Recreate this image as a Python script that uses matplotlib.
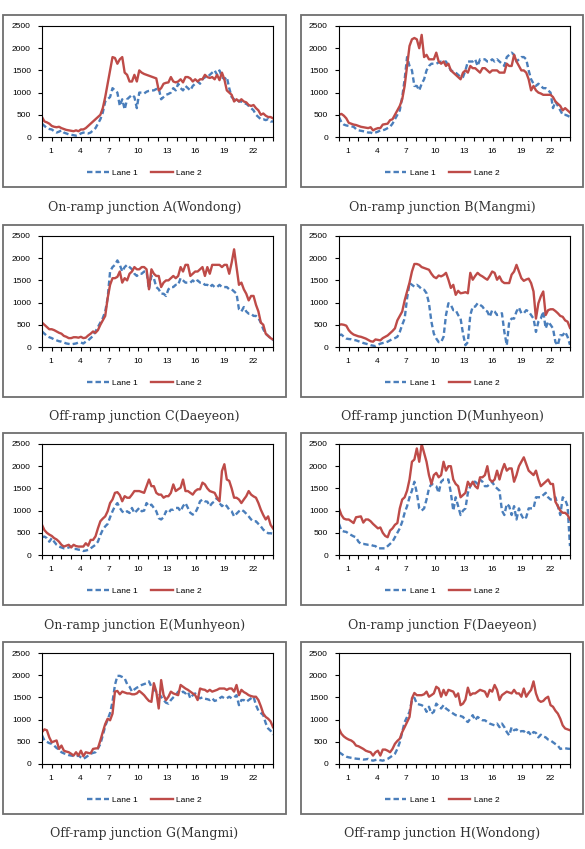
import numpy as np
import matplotlib.pyplot as plt
from matplotlib.patches import Rectangle

# 15-minute traffic volumes (veh/h), 96 samples per day
a_lane1 = [300, 250, 200, 180, 170, 130, 100, 120, 150, 100, 80, 60, 50, 40, 30, 50,
           80, 100, 90, 80, 100, 150, 200, 300, 400, 550, 800, 850, 900, 1100, 1050, 1000,
           700, 850, 620, 850, 900, 950, 900, 650, 1000, 1000, 980, 1020, 1040, 1050, 1050, 1080,
           1100, 850, 900, 950, 970, 1000, 1100, 1050, 1200, 1100, 1050, 1150, 1100, 1050, 1150, 1200,
           1250, 1200, 1300, 1350, 1350, 1400, 1450, 1500, 1400, 1500, 1350, 1300, 1350, 1100, 900, 850,
           850, 800, 800, 750, 750, 700, 650, 600, 500, 450, 400, 400, 380, 400, 350, 350]
a_lane2 = [450, 350, 330, 300, 250, 230, 220, 230, 200, 180, 160, 150, 140, 130, 150, 130,
           170, 170, 200, 250, 300, 350, 400, 450, 500, 650, 900, 1200, 1500, 1800, 1780, 1650,
           1750, 1800, 1450, 1400, 1250, 1250, 1400, 1250, 1500, 1450, 1420, 1400, 1380, 1360, 1340, 1320,
           1050, 1100, 1200, 1220, 1230, 1350, 1250, 1230, 1250, 1300, 1230, 1350, 1350, 1320, 1250, 1300,
           1250, 1300, 1300, 1400, 1350, 1330, 1350, 1300, 1400, 1280, 1450, 1300, 1050, 1000, 950, 800,
           850, 800, 850, 800, 780, 720, 700, 720, 650, 600, 500, 530, 480, 450, 450, 420]
b_lane1 = [450, 330, 280, 260, 250, 240, 230, 180, 150, 140, 130, 120, 100, 100, 80, 100,
           120, 150, 150, 170, 200, 230, 300, 400, 500, 600, 900, 1300, 1800, 1600, 1500, 1150,
           1150, 1050, 1200, 1300, 1500, 1600, 1650, 1650, 1650, 1680, 1700, 1700, 1700, 1600, 1500, 1480,
           1450, 1400, 1350, 1350, 1500, 1700, 1700, 1700, 1750, 1600, 1750, 1750, 1750, 1700, 1700, 1750,
           1700, 1750, 1700, 1650, 1600, 1800, 1850, 1900, 1850, 1700, 1750, 1800, 1800, 1750, 1500, 1300,
           1200, 1150, 1200, 1150, 1100, 1100, 1050, 1000, 650, 800, 700, 600, 500, 500, 480, 450]
b_lane2 = [500, 520, 480, 420, 320, 300, 280, 270, 250, 230, 220, 210, 200, 220, 150, 180,
           200, 200, 280, 290, 300, 380, 400, 500, 600, 700, 850, 1150, 1600, 2050, 2200, 2230,
           2200, 2000, 2300, 1800, 1850, 1750, 1750, 1750, 1900, 1700, 1650, 1700, 1600, 1650, 1500, 1450,
           1400, 1350, 1300, 1450, 1500, 1450, 1600, 1550, 1550, 1500, 1450, 1550, 1550, 1500, 1450, 1500,
           1500, 1500, 1450, 1450, 1450, 1650, 1600, 1600, 1850, 1700, 1600, 1500, 1500, 1450, 1300, 1050,
           1150, 1050, 1000, 980, 950, 950, 950, 950, 900, 800, 750, 700, 600, 650, 600, 550]
c_lane1 = [350, 300, 250, 220, 200, 170, 150, 130, 120, 100, 80, 70, 60, 70, 80, 100,
           100, 80, 120, 150, 200, 250, 350, 450, 550, 650, 800, 1100, 1700, 1800, 1850, 1950,
           1850, 1700, 1800, 1850, 1800, 1750, 1650, 1600, 1650, 1650, 1700, 1700, 1300, 1600, 1550, 1350,
           1300, 1200, 1200, 1150, 1300, 1350, 1350, 1400, 1400, 1550, 1500, 1450, 1450, 1450, 1500, 1450,
           1500, 1450, 1450, 1400, 1400, 1350, 1400, 1350, 1350, 1400, 1350, 1350, 1350, 1300, 1300, 1250,
           1200, 850, 800, 900, 800, 750, 750, 700, 700, 650, 550, 400, 300, 250, 200, 150]
c_lane2 = [550, 500, 450, 400, 400, 380, 350, 320, 300, 250, 230, 200, 200, 220, 220, 210,
           230, 200, 210, 260, 300, 350, 320, 380, 500, 600, 700, 1100, 1400, 1550, 1550, 1580,
           1700, 1450, 1550, 1500, 1650, 1700, 1800, 1750, 1750, 1800, 1800, 1750, 1300, 1750, 1650, 1600,
           1600, 1350, 1450, 1500, 1500, 1550, 1600, 1550, 1600, 1800, 1700, 1850, 1850, 1600, 1650, 1700,
           1700, 1750, 1800, 1600, 1800, 1650, 1850, 1850, 1850, 1850, 1800, 1850, 1850, 1650, 1900, 2200,
           1800, 1400, 1450, 1300, 1200, 1050, 1150, 1150, 950, 800, 550, 500, 300, 250, 200, 170]
d_lane1 = [265, 280, 230, 190, 180, 175, 160, 150, 130, 110, 90, 75, 60, 40, 30, 20,
           50, 75, 90, 100, 120, 150, 180, 200, 230, 340, 500, 640, 1100, 1440, 1400, 1360,
           1400, 1360, 1300, 1290, 1210, 985, 570, 300, 190, 110, 110, 230, 720, 985, 950, 830,
           830, 720, 640, 300, 40, 110, 720, 910, 910, 985, 950, 910, 830, 800, 680, 830,
           800, 720, 740, 760, 340, 40, 570, 640, 640, 800, 890, 760, 760, 830, 800, 720,
           640, 340, 570, 640, 800, 420, 570, 500, 420, 110, 40, 265, 265, 340, 230, 50]
d_lane2 = [500, 510, 500, 480, 380, 320, 280, 260, 240, 230, 210, 190, 160, 130, 120, 170,
           160, 150, 200, 230, 260, 310, 360, 420, 600, 700, 800, 1050, 1250, 1450, 1700, 1870,
           1870, 1850, 1800, 1780, 1760, 1740, 1650, 1580, 1550, 1610, 1590, 1620, 1670, 1515, 1330, 1400,
           1175, 1265, 1210, 1220, 1235, 1210, 1670, 1515, 1600, 1670, 1620, 1590, 1550, 1515, 1600, 1700,
           1670, 1515, 1590, 1480, 1440, 1440, 1440, 1630, 1700, 1850, 1700, 1550, 1490, 1520, 1540, 1440,
           1250, 640, 985, 1140, 1250, 720, 830, 850, 850, 810, 760, 700, 680, 600, 570, 430]
e_lane1 = [400, 415, 380, 300, 380, 300, 230, 190, 170, 150, 150, 170, 190, 135, 135, 120,
           115, 90, 100, 115, 150, 190, 230, 300, 450, 570, 645, 700, 850, 985, 1100, 1170,
           1060, 980, 945, 985, 945, 1060, 945, 1000, 1060, 985, 1000, 1170, 1100, 1135, 1060, 985,
           830, 800, 850, 985, 945, 1020, 1020, 1060, 1060, 985, 1100, 1170, 1060, 950, 910, 945,
           1060, 1210, 1250, 1210, 1200, 1100, 1170, 1210, 1290, 1170, 1100, 1150, 1100, 1020, 985, 870,
           930, 985, 1020, 985, 930, 870, 800, 760, 760, 700, 645, 570, 530, 490, 490, 480]
e_lane2 = [680, 560, 500, 460, 430, 380, 350, 300, 230, 190, 210, 230, 170, 230, 200, 190,
           190, 190, 265, 210, 340, 340, 420, 600, 760, 820, 870, 985, 1170, 1250, 1400, 1415,
           1350, 1210, 1325, 1290, 1290, 1360, 1440, 1440, 1440, 1420, 1400, 1550, 1700, 1550, 1550, 1400,
           1360, 1360, 1290, 1325, 1325, 1400, 1590, 1440, 1480, 1515, 1700, 1440, 1440, 1400, 1360, 1440,
           1480, 1480, 1630, 1590, 1500, 1440, 1420, 1400, 1290, 1210, 1890, 2045, 1700, 1670, 1500, 1290,
           1290, 1250, 1170, 1250, 1325, 1440, 1360, 1320, 1290, 1170, 1020, 900, 800, 870, 680, 600]
f_lane1 = [700, 550, 530, 520, 480, 450, 420, 400, 300, 250, 250, 240, 230, 230, 210, 200,
           150, 150, 150, 150, 200, 250, 300, 400, 500, 600, 750, 950, 1100, 1300, 1450, 1650,
           1400, 1050, 1000, 1050, 1250, 1500, 1600, 1580, 1550, 1400, 1650, 1700, 1700, 1700, 1400, 1000,
           1300, 1100, 900, 1000, 1050, 1400, 1550, 1650, 1650, 1600, 1700, 1650, 1550, 1550, 1600, 1650,
           1550, 1500, 1450, 1000, 900, 1150, 1100, 900, 1100, 800, 1050, 900, 800, 850, 1050, 1050,
           1050, 1300, 1300, 1300, 1350, 1400, 1300, 1250, 1250, 1300, 1100, 900, 1300, 1250, 1100, 200]
f_lane2 = [1050, 900, 820, 800, 800, 760, 720, 850, 860, 870, 730, 800, 800, 760, 700, 650,
           600, 620, 500, 430, 400, 550, 600, 680, 720, 1050, 1250, 1300, 1450, 1700, 2100, 2150,
           2400, 2100, 2500, 2300, 2100, 1800, 1600, 1800, 1850, 1750, 1800, 2100, 1900, 2000, 2000, 1700,
           1600, 1550, 1300, 1350, 1400, 1650, 1550, 1650, 1550, 1500, 1750, 1750, 1800, 2000, 1700, 1650,
           1700, 1900, 1700, 1900, 2050, 1900, 1950, 1950, 1650, 1800, 2000, 2100, 2200, 2050, 1900, 1850,
           1800, 1900, 1700, 1550, 1600, 1650, 1700, 1600, 1600, 1200, 1100, 1000, 950, 950, 900, 800]
g_lane1 = [645, 530, 500, 470, 455, 415, 360, 330, 265, 240, 220, 200, 190, 180, 175, 190,
           150, 115, 150, 190, 230, 250, 265, 350, 450, 645, 850, 1000, 1150, 1400, 1780, 1985,
           1985, 1960, 1930, 1800, 1740, 1630, 1680, 1720, 1740, 1780, 1800, 1820, 1860, 1740, 1680, 1630,
           1590, 1515, 1440, 1380, 1360, 1440, 1500, 1550, 1630, 1590, 1630, 1590, 1630, 1480, 1550, 1590,
           1515, 1480, 1500, 1470, 1460, 1440, 1480, 1420, 1440, 1480, 1515, 1480, 1480, 1515, 1480, 1500,
           1550, 1325, 1440, 1440, 1400, 1440, 1480, 1515, 1325, 1200, 1150, 1100, 920, 800, 750, 660]
g_lane2 = [720, 780, 760, 600, 490, 510, 530, 340, 415, 300, 280, 265, 230, 190, 265, 190,
           300, 175, 265, 250, 240, 340, 350, 355, 530, 720, 900, 1020, 985, 1135, 1630, 1645,
           1570, 1630, 1610, 1590, 1590, 1570, 1570, 1590, 1645, 1600, 1550, 1480, 1420, 1400, 1820, 1630,
           1250, 1890, 1550, 1440, 1515, 1630, 1590, 1570, 1550, 1780, 1740, 1700, 1670, 1630, 1590, 1550,
           1440, 1700, 1680, 1670, 1630, 1670, 1630, 1650, 1670, 1700, 1700, 1700, 1670, 1700, 1700, 1630,
           1780, 1550, 1670, 1620, 1590, 1550, 1530, 1515, 1515, 1440, 1300, 1135, 1060, 1020, 960, 830]
h_lane1 = [265, 230, 190, 165, 150, 140, 130, 120, 115, 110, 100, 105, 115, 90, 75, 90,
           100, 85, 75, 95, 115, 150, 190, 230, 340, 490, 720, 945, 1060, 1175, 1440, 1490,
           1360, 1340, 1325, 1290, 1175, 1290, 1135, 1175, 1360, 1300, 1250, 1325, 1250, 1210, 1170, 1135,
           1100, 1090, 1080, 1060, 985, 945, 1020, 1100, 985, 1060, 1020, 985, 985, 945, 910, 890,
           870, 910, 830, 910, 830, 720, 645, 830, 760, 780, 720, 740, 740, 680, 720, 645,
           720, 700, 600, 660, 620, 600, 550, 530, 490, 450, 415, 340, 350, 355, 345, 340]
h_lane2 = [795, 680, 620, 580, 550, 530, 490, 415, 400, 370, 340, 300, 280, 265, 190, 265,
           300, 190, 325, 325, 300, 265, 340, 455, 520, 570, 720, 830, 945, 1060, 1480, 1600,
           1550, 1550, 1550, 1570, 1630, 1515, 1550, 1590, 1740, 1700, 1515, 1670, 1550, 1670, 1650, 1630,
           1515, 1590, 1325, 1360, 1450, 1720, 1550, 1590, 1590, 1630, 1670, 1650, 1630, 1515, 1670, 1630,
           1780, 1670, 1440, 1550, 1590, 1630, 1610, 1590, 1670, 1590, 1590, 1515, 1700, 1515, 1600, 1670,
           1860, 1590, 1440, 1400, 1420, 1480, 1515, 1325, 1290, 1200, 1135, 1020, 870, 800, 780, 760]

captions = ["On-ramp junction A(Wondong)", "On-ramp junction B(Mangmi)",
            "Off-ramp junction C(Daeyeon)", "Off-ramp junction D(Munhyeon)",
            "On-ramp junction E(Munhyeon)", "On-ramp junction F(Daeyeon)",
            "Off-ramp junction G(Mangmi)", "Off-ramp junction H(Wondong)"]
lane1 = [a_lane1, b_lane1, c_lane1, d_lane1, e_lane1, f_lane1, g_lane1, h_lane1]
lane2 = [a_lane2, b_lane2, c_lane2, d_lane2, e_lane2, f_lane2, g_lane2, h_lane2]
hour_labels = [1, 4, 7, 10, 13, 16, 19, 22]

W, H = 585, 849
fig = plt.figure(figsize=(W / 100, H / 100), dpi=100)
plt.rcParams['font.family'] = ['Liberation Sans', 'DejaVu Sans']

blue = '#4a7ebb'
red = '#be4b48'

# pixel layout (left col / right col, 4 rows)
ax_x = [(42, 273), (339, 570)]
box_x = [(3, 286), (301, 583)]
row_top = [15, 225, 433, 642]

for k in range(8):
    r, c = divmod(k, 2)
    bt = row_top[r]
    at, ab = bt + 11, bt + 122
    x0, x1 = ax_x[c]
    ax = fig.add_axes([x0 / W, 1 - ab / H, (x1 - x0) / W, (ab - at) / H])

    n = len(lane1[k])
    t = np.arange(n) * 24 / (n - 1)
    ax.plot(t, lane1[k], color=blue, lw=1.7, ls=(0, (2.3, 1.3)), label='Lane 1')
    ax.plot(t, lane2[k], color=red, lw=1.7, label='Lane 2')

    ax.set_xlim(0, 24)
    ax.set_ylim(0, 2500)
    ax.set_yticks(range(0, 2501, 500))
    ax.set_xticks(range(25))
    ax.set_xticklabels([])
    ax.set_xticks([h - 0.05 for h in hour_labels], minor=True)
    ax.set_xticklabels([str(h) for h in hour_labels], minor=True)
    ax.tick_params(axis='x', which='major', length=3, width=0.8, direction='out')
    ax.tick_params(axis='x', which='minor', length=0, pad=8, labelsize=6)
    ax.tick_params(axis='y', length=3, width=0.8, pad=5, labelsize=6)
    for s in ax.spines.values():
        s.set_linewidth(0.8)
        s.set_color('black')

    bx0, bx1 = box_x[c]
    fig.add_artist(Rectangle((bx0 / W, 1 - (bt + 172) / H), (bx1 - bx0) / W, 172 / H,
                             transform=fig.transFigure, fill=False,
                             edgecolor='#6e6e6e', lw=1.3))
    cx = (bx0 + bx1) / 2
    ax.legend(loc='center', bbox_to_anchor=(cx / W, 1 - (bt + 158) / H),
              bbox_transform=fig.transFigure, ncol=2, frameon=False, fontsize=6,
              handlelength=2.6, handletextpad=0.4, columnspacing=1.6)
    fig.text(cx / W, 1 - (bt + 192) / H, captions[k], ha='center', va='center',
             fontsize=9, family='DejaVu Serif', color='#333333')

fig.savefig('out.png', dpi=100)
